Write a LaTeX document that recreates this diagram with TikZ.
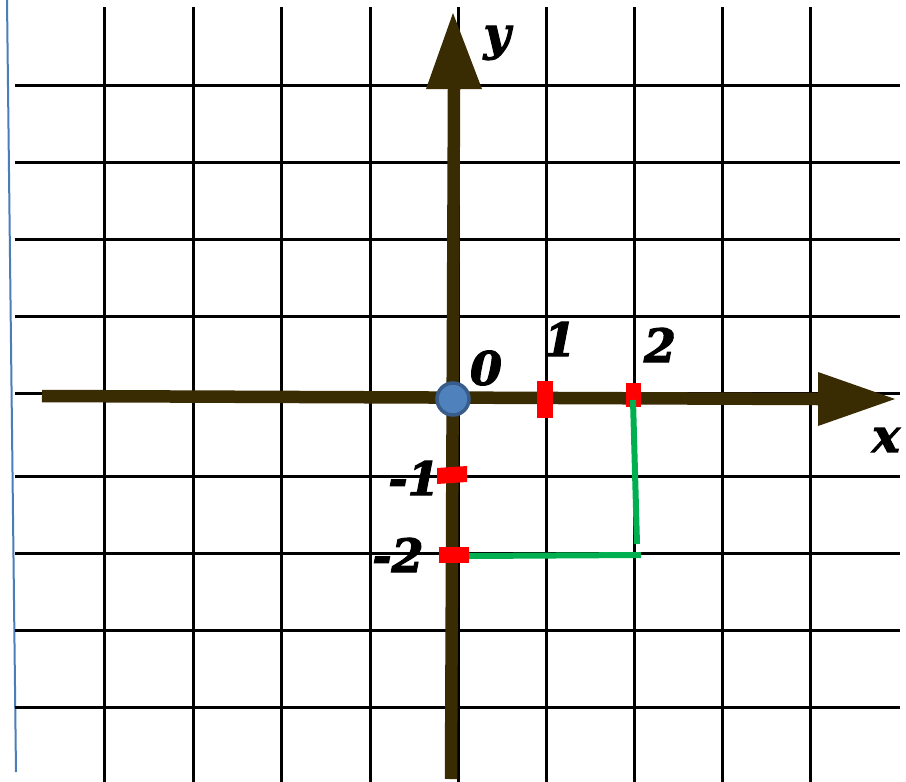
\documentclass[tikz,border=0pt]{standalone}
\usepackage{fontspec}
\newfontfamily\lblfont[BoldItalicFeatures={FakeBold=2.5}]{DejaVu Serif}
\definecolor{axisbrown}{RGB}{57,43,2}
\definecolor{tickred}{RGB}{255,0,0}
\definecolor{pathgreen}{RGB}{0,176,80}
\definecolor{dotblue}{RGB}{79,129,189}
\definecolor{dotedge}{RGB}{56,93,138}
\definecolor{sideblue}{RGB}{74,126,187}
\tikzset{
  gridline/.style={black, line width=3pt},
  axisline/.style={axisbrown, line width=12.5pt},
  axishead/.style={fill=axisbrown, draw=none},
  tickbox/.style={fill=tickred, draw=none},
  greenline/.style={pathgreen, line width=6pt},
  lbl/.style={font=\lblfont\bfseries\itshape\fontsize{46}{46}\selectfont, inner sep=0pt, text=black}
}
\begin{document}
\begin{tikzpicture}[x=1pt,y=-1pt]
\useasboundingbox (0,0) rectangle (906,782);
\fill[white] (0,0) rectangle (906,782);
% side blue line
\coordinate (sb1) at (7,0);
\coordinate (sb2) at (16,772);
\draw[sideblue, line width=2pt] (sb1) -- (sb2);
% grid
\foreach \gx in {104.5,193,281.5,370,458,546,634,722,810}
  \draw[gridline] (\gx,7) -- (\gx,782);
\foreach \gy in {85,162,239,316,393,476,553,630,707}
  \draw[gridline] (15,\gy) -- (900,\gy);
% axes
\coordinate (xs) at (42,396);
\coordinate (xe) at (818,399);
\coordinate (ys) at (451,779);
\coordinate (ye) at (454,89);
\draw[axisline] (xs) -- (xe);
\draw[axisline] (ys) -- (ye);
\fill[axishead] (895,399) -- (818,372) -- (818,426) -- cycle;
\fill[axishead] (453,13) -- (426,89) -- (482,89) -- cycle;
% green path
\coordinate (g1) at (633,400);
\coordinate (g2) at (637,544);
\coordinate (g3) at (469,556);
\coordinate (g4) at (641,555);
\draw[greenline] (g3) -- (g4);
% red ticks
\fill[tickbox] (537,381) rectangle (553,418);
\fill[tickbox] (626,383) rectangle (641,407);
\fill[tickbox] (437,468) -- (467,466) -- (467,482) -- (437,484) -- cycle;
\fill[tickbox] (439,547) rectangle (469,563);
\draw[greenline] (g1) -- (g2);
% origin dot
\node[circle, minimum size=32pt, inner sep=0pt, fill=dotblue, draw=dotedge, line width=3.5pt] (o) at (453,399) {};
% labels
\node[lbl] (ly) at (497,43) {y};
\node[lbl] (lx) at (886,440) {x};
\node[lbl] (l0) at (486,368) {0};
\node[lbl] (l1) at (560,339) {1};
\node[lbl] (l2) at (660,345) {2};
\node[lbl] (lm1) at (414,478) {-1};
\node[lbl] (lm2) at (398,555) {-2};
\end{tikzpicture}
\end{document}
